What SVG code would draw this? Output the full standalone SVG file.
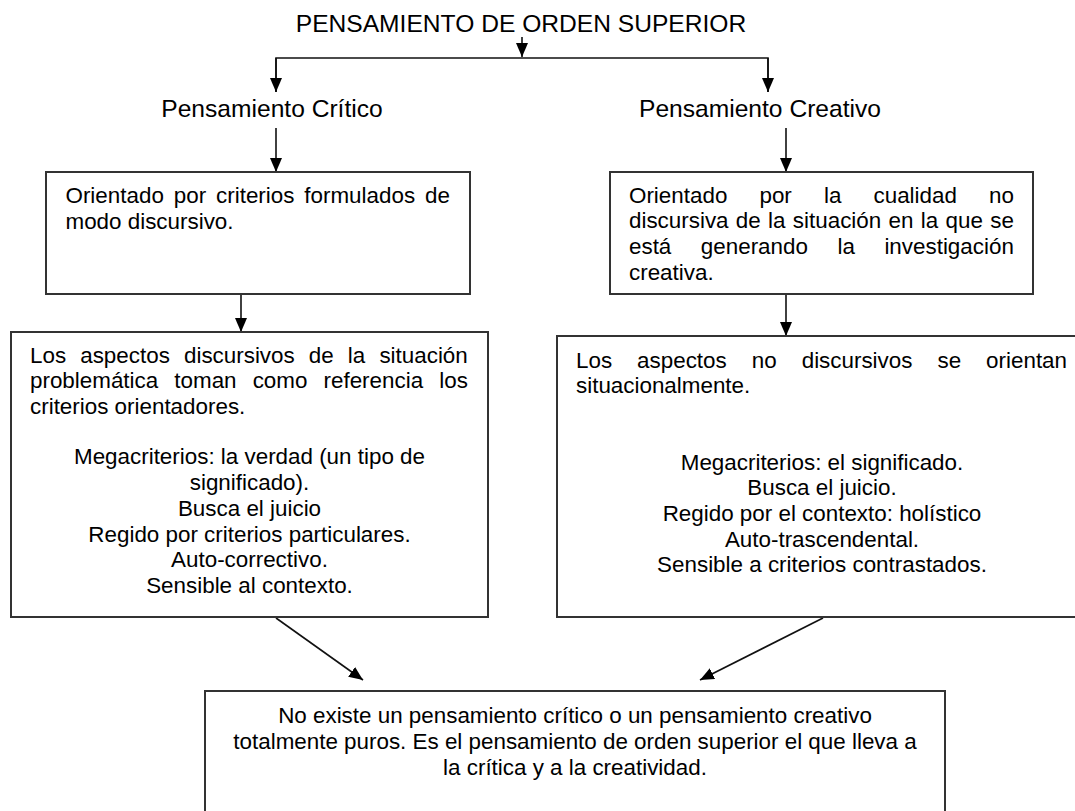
<svg xmlns="http://www.w3.org/2000/svg" width="1075" height="811" viewBox="0 0 1075 811">
<style>
text{font-family:"Liberation Sans",Arial,sans-serif;fill:#000}
.t{font-size:24.6px}
.b{font-size:22.4px}
.c{text-anchor:middle}
.box{fill:#fff;stroke:#333;stroke-width:2}
.ln{stroke:#111;stroke-width:1.6;fill:none}
</style>
<defs>
<marker id="ah" viewBox="0 0 14 12" refX="14" refY="6" markerWidth="14" markerHeight="12" markerUnits="userSpaceOnUse" orient="auto">
<path d="M0,0 L14,6 L0,12 Z" fill="#000"/>
</marker>
</defs>
<rect width="1075" height="811" fill="#fff"/>
<g id="connectors">
<line class="ln" x1="522" y1="37" x2="522" y2="57" marker-end="url(#ah)"/>
<polyline class="ln" points="276,92 276,58 768,58 768,92"/>
<line class="ln" x1="276" y1="58" x2="276" y2="92" marker-end="url(#ah)"/>
<line class="ln" x1="768" y1="58" x2="768" y2="92" marker-end="url(#ah)"/>
<line class="ln" x1="276" y1="128" x2="276" y2="172" marker-end="url(#ah)"/>
<line class="ln" x1="786" y1="128" x2="786" y2="172" marker-end="url(#ah)"/>
<line class="ln" x1="241" y1="294" x2="241" y2="332" marker-end="url(#ah)"/>
<line class="ln" x1="786" y1="294" x2="786" y2="336" marker-end="url(#ah)"/>
<line class="ln" x1="276" y1="618" x2="363" y2="680" marker-end="url(#ah)"/>
<line class="ln" x1="823" y1="618" x2="700" y2="680" marker-end="url(#ah)"/>
</g>
<g id="title">
<text class="t c" x="521" y="32">PENSAMIENTO DE ORDEN SUPERIOR</text>
</g>
<g id="critico">
<text class="t c" x="272" y="117">Pensamiento Crítico</text>
</g>
<g id="creativo">
<text class="t" x="639" y="117">Pensamiento Creativo</text>
</g>
<g id="box-critico-1">
<rect class="box" x="46" y="172" width="424" height="122"/>
<text class="b" x="65.5" y="203" word-spacing="3.7">Orientado por criterios formulados de</text>
<text class="b" x="65.5" y="229">modo discursivo.</text>
</g>
<g id="box-creativo-1">
<rect class="box" x="610" y="172" width="423" height="122"/>
<text class="b" x="629" y="203" word-spacing="25.9">Orientado por la cualidad no</text>
<text class="b" x="629" y="228" word-spacing="1.1">discursiva de la situación en la que se</text>
<text class="b" x="629" y="254" word-spacing="23.3">está generando la investigación</text>
<text class="b" x="629" y="280">creativa.</text>
</g>
<g id="box-critico-2">
<rect class="box" x="11" y="332" width="477" height="285"/>
<text class="b" x="30" y="363" word-spacing="7.9">Los aspectos discursivos de la situación</text>
<text class="b" x="30" y="388" word-spacing="9.9">problemática toman como referencia los</text>
<text class="b" x="30" y="414">criterios orientadores.</text>
<text class="b c" x="249.5" y="464">Megacriterios: la verdad (un tipo de</text>
<text class="b c" x="249.5" y="490">significado).</text>
<text class="b c" x="249.5" y="516">Busca el juicio</text>
<text class="b c" x="249.5" y="542">Regido por criterios particulares.</text>
<text class="b c" x="249.5" y="567">Auto-correctivo.</text>
<text class="b c" x="249.5" y="593">Sensible al contexto.</text>
</g>
<g id="box-creativo-2">
<rect class="box" x="557" y="336" width="530" height="281"/>
<text class="b" x="576" y="368" word-spacing="18.8">Los aspectos no discursivos se orientan</text>
<text class="b" x="576" y="393">situacionalmente.</text>
<text class="b c" x="822" y="470">Megacriterios: el significado.</text>
<text class="b c" x="822" y="495">Busca el juicio.</text>
<text class="b c" x="822" y="521">Regido por el contexto: holístico</text>
<text class="b c" x="822" y="547">Auto-trascendental.</text>
<text class="b c" x="822" y="572">Sensible a criterios contrastados.</text>
</g>
<g id="box-conclusion">
<rect class="box" x="205" y="691" width="740" height="140"/>
<text class="b c" x="575" y="723">No existe un pensamiento crítico o un pensamiento creativo</text>
<text class="b c" x="575" y="749">totalmente puros. Es el pensamiento de orden superior el que lleva a</text>
<text class="b c" x="575" y="775">la crítica y a la creatividad.</text>
</g>
</svg>
